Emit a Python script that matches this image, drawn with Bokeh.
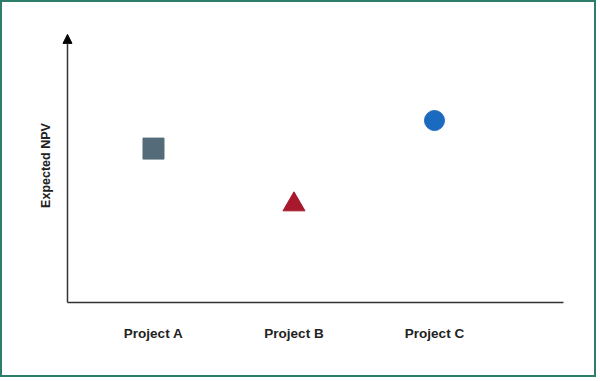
from bokeh.plotting import figure
from bokeh.models import Arrow, NormalHead, FixedTicker
from bokeh.embed import file_html
from bokeh.resources import INLINE

projects = ["Project A", "Project B", "Project C"]
x_pos = [1, 2, 3]
npv = [57.0, 36.3, 67.4]
markers = ["square", "triangle", "circle"]
colors = ["#546b79", "#a8192e", "#1a6bbf"]
sizes = [21, 22, 20]

X0, X1 = 0.3879, 3.918   # axis origin and end of horizontal axis
Y_TIP = 99.3

p = figure(width=596, height=377, output_backend="svg", toolbar_location=None,
           x_range=(0.3381, 4.0036), y_range=(-2.963, 104.44),
           min_border_left=58, min_border_right=23, min_border_top=18, min_border_bottom=69)
p.styles = {"border": "2px solid #2e7d6b"}
p.outline_line_color = None
p.grid.visible = False
p.background_fill_color = "white"
p.border_fill_color = "white"

# horizontal axis line
p.segment(x0=[X0], y0=[0], x1=[X1], y1=[0], line_color="#333333", line_width=1.5)
# vertical axis with arrow head
p.add_layout(Arrow(x_start=X0, y_start=0, x_end=X0, y_end=Y_TIP,
                   line_color="#333333", line_width=1.5,
                   end=NormalHead(size=9, fill_color="black", line_color="black")))

for xi, yi, m, c, s in zip(x_pos, npv, markers, colors, sizes):
    p.scatter([xi], [yi], marker=m, size=s, fill_color=c, line_color=c)

xa = p.xaxis[0]
xa.ticker = FixedTicker(ticks=x_pos)
xa.major_label_overrides = {xi: lab for xi, lab in zip(x_pos, projects)}
xa.major_tick_line_color = None
xa.minor_tick_line_color = None
xa.axis_line_color = None
xa.major_label_standoff = 9
xa.major_label_text_font = "Liberation Sans"
xa.major_label_text_font_style = "bold"
xa.major_label_text_font_size = "13.5px"
xa.major_label_text_color = "#222222"

ya = p.yaxis[0]
ya.ticker = FixedTicker(ticks=[])
ya.axis_line_color = None
ya.minor_tick_line_color = None
ya.major_tick_line_color = None
ya.axis_label = "Expected NPV"
ya.axis_label_text_font = "Liberation Sans"
ya.axis_label_text_font_style = "bold"
ya.axis_label_text_font_size = "12.5px"
ya.axis_label_text_color = "#222222"
ya.axis_label_standoff = 8

open("out.html", "w").write(file_html(p, INLINE))
